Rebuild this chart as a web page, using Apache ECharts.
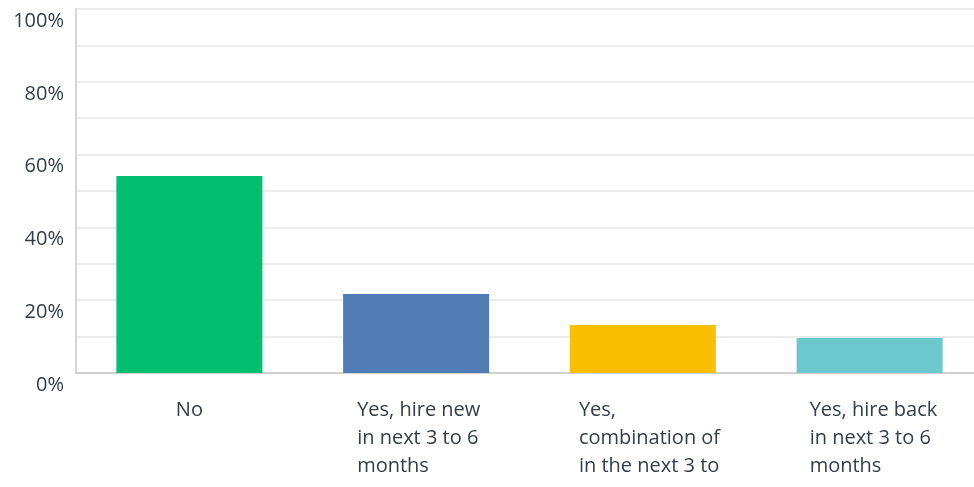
<!DOCTYPE html>
<html><head><meta charset="utf-8">
<script src="https://cdn.jsdelivr.net/npm/echarts@6/dist/echarts.min.js"></script>
<style>html,body{margin:0;padding:0;background:#fff;overflow:hidden}#c{width:983px;height:487px}</style>
</head><body><div id="c"></div>
<script>
var categories = ['No', 'Yes, hire new in next 3 to 6 months', 'Yes, combination of in the next 3 to', 'Yes, hire back in next 3 to 6 months'];
var labelLines = [['No'], ['Yes, hire new', 'in next 3 to 6', 'months'], ['Yes,', 'combination of', 'in the next 3 to'], ['Yes, hire back', 'in next 3 to 6', 'months']];
var values = [54.1, 21.7, 13.2, 9.6];
var colors = ['#00bf6f', '#507cb6', '#f9be00', '#6bc8cd'];
var yTicks = [0, 20, 40, 60, 80, 100];

var chart = echarts.init(document.getElementById('c'));
var font = '"Open Sans", "Noto Sans", sans-serif';
var textColor = '#333e48';
var fs = 20;
chart.setOption({
  animation: false,
  grid: { left: 76, top: 9, right: 0, bottom: 114, containLabel: false },
  xAxis: {
    type: 'category',
    data: categories,
    axisLine: { show: true, lineStyle: { color: '#d0d0d0', width: 2 } },
    axisTick: { show: false },
    axisLabel: {
      interval: 0,
      margin: 23,
      formatter: function (v, i) {
        var lines = labelLines[i];
        if (lines.length === 1) return '{c|' + lines[0] + '}';
        var st = ['', 'a', 'b', 'd'][i];
        return lines.map(function (l) { return '{' + st + '|' + l + '}'; }).join('\n');
      },
      rich: {
        c: { fontSize: fs, fontFamily: font, color: textColor, lineHeight: 28 },
        a: { fontSize: fs, fontFamily: font, color: textColor, lineHeight: 28, width: 118, align: 'left' },
        b: { fontSize: fs, fontFamily: font, color: textColor, lineHeight: 28, width: 128, align: 'left' },
        d: { fontSize: fs, fontFamily: font, color: textColor, lineHeight: 28, width: 120, align: 'left' }
      }
    }
  },
  yAxis: {
    type: 'value',
    min: 0, max: 100, interval: 10,
    axisLine: { show: true, lineStyle: { color: '#d6d6d6', width: 2 } },
    axisTick: { show: false },
    splitLine: { show: true, lineStyle: { color: '#ececec', width: 2 } },
    axisLabel: {
      margin: 12,
      fontSize: fs, fontFamily: font, color: textColor,
      verticalAlign: 'top',
      lineHeight: 24,
      formatter: function (v) { return yTicks.indexOf(v) >= 0 ? v + '%' : ''; }
    }
  },
  series: [{
    type: 'bar',
    barWidth: 146,
    data: values.map(function (v, i) { return { value: v, itemStyle: { color: colors[i] } }; })
  }]
});
</script>
</body></html>
